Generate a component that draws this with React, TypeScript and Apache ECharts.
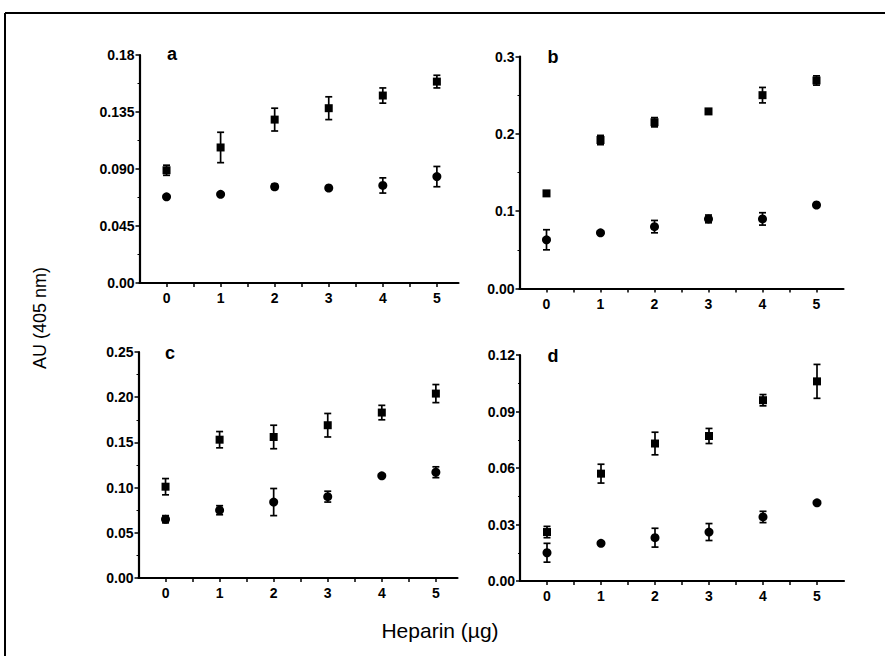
import React, { useEffect, useRef } from "react";
import * as echarts from "echarts";

const xs = [0, 1, 2, 3, 4, 5];
const xTickLabels = ["0", "1", "2", "3", "4", "5"];

const aSquare = [0.089, 0.107, 0.129, 0.138, 0.148, 0.159];
const aSquareErr = [0.004, 0.012, 0.009, 0.009, 0.006, 0.005];
const aCircle = [0.068, 0.07, 0.076, 0.075, 0.077, 0.084];
const aCircleErr = [0, 0, 0.002, 0, 0.006, 0.008];

const bSquare = [0.123, 0.192, 0.215, 0.229, 0.25, 0.269];
const bSquareErr = [0, 0.006, 0.006, 0, 0.01, 0.006];
const bCircle = [0.063, 0.072, 0.08, 0.09, 0.09, 0.108];
const bCircleErr = [0.013, 0, 0.008, 0.005, 0.008, 0];

const cSquare = [0.101, 0.153, 0.156, 0.169, 0.183, 0.204];
const cSquareErr = [0.009, 0.009, 0.013, 0.013, 0.008, 0.01];
const cCircle = [0.065, 0.075, 0.084, 0.09, 0.113, 0.117];
const cCircleErr = [0.004, 0.005, 0.015, 0.006, 0, 0.006];

const dSquare = [0.026, 0.057, 0.073, 0.077, 0.096, 0.106];
const dSquareErr = [0.003, 0.005, 0.006, 0.004, 0.003, 0.009];
const dCircle = [0.015, 0.02, 0.023, 0.026, 0.034, 0.0415];
const dCircleErr = [0.005, 0, 0.005, 0.0045, 0.003, 0];

const aYLabels = ["0.00", "0.045", "0.090", "0.135", "0.18"];
const bYLabels = ["0.00", "0.1", "0.2", "0.3"];
const cYLabels = ["0.00", "0.05", "0.10", "0.15", "0.20", "0.25"];
const dYLabels = ["0.00", "0.03", "0.06", "0.09", "0.12"];

const panelLetters = ["a", "b", "c", "d"];
const xTitle = "Heparin (µg)";
const yTitle = "AU (405 nm)";

const FONT = "'Liberation Sans', Arial, Helvetica, sans-serif";

type Panel = {
  sq: number[];
  sqErr: number[];
  ci: number[];
  ciErr: number[];
  yMax: number;
  yInterval: number;
  yLabels: string[];
  grid: { left: number; top: number; width: number; height: number };
  xMax: number;
};

const panels: Panel[] = [
  { sq: aSquare, sqErr: aSquareErr, ci: aCircle, ciErr: aCircleErr, yMax: 0.18, yInterval: 0.045, yLabels: aYLabels, grid: { left: 139.5, top: 55, width: 319, height: 228 }, xMax: 5.4 },
  { sq: bSquare, sqErr: bSquareErr, ci: bCircle, ciErr: bCircleErr, yMax: 0.3, yInterval: 0.1, yLabels: bYLabels, grid: { left: 519.5, top: 56.5, width: 324, height: 232 }, xMax: 5.5 },
  { sq: cSquare, sqErr: cSquareErr, ci: cCircle, ciErr: cCircleErr, yMax: 0.25, yInterval: 0.05, yLabels: cYLabels, grid: { left: 138.5, top: 352, width: 319, height: 226 }, xMax: 5.4 },
  { sq: dSquare, sqErr: dSquareErr, ci: dCircle, ciErr: dCircleErr, yMax: 0.12, yInterval: 0.03, yLabels: dYLabels, grid: { left: 520, top: 355, width: 324, height: 226 }, xMax: 5.5 },
];

const letterPos = [
  [172, 54],
  [553, 57],
  [170, 353],
  [553, 356],
];

function errorBarSeries(vals: number[], errs: number[], idx: number) {
  const data: number[][] = [];
  xs.forEach((x, i) => {
    if (errs[i] > 0) data.push([x, vals[i] - errs[i], vals[i] + errs[i]]);
  });
  return {
    type: "custom",
    xAxisIndex: idx,
    yAxisIndex: idx,
    data,
    encode: { x: 0, y: [1, 2] },
    z: 3,
    renderItem: (params: any, api: any) => {
      const x = api.value(0);
      const lo = api.coord([x, api.value(1)]);
      const hi = api.coord([x, api.value(2)]);
      const w = 3.5;
      const style = { stroke: "#000", lineWidth: 1.7 };
      return {
        type: "group",
        children: [
          { type: "line", shape: { x1: lo[0], y1: lo[1], x2: hi[0], y2: hi[1] }, style },
          { type: "line", shape: { x1: lo[0] - w, y1: lo[1], x2: lo[0] + w, y2: lo[1] }, style },
          { type: "line", shape: { x1: hi[0] - w, y1: hi[1], x2: hi[0] + w, y2: hi[1] }, style },
        ],
      };
    },
  };
}

export default function App() {
  const ref = useRef<HTMLDivElement>(null);
  useEffect(() => {
    document.body.style.margin = "0";
    const chart = echarts.init(ref.current!, null, { renderer: "svg" });
    const grids = panels.map((p) => ({ ...p.grid }));
    const xAxes = panels.map((p, i) => ({
      type: "value",
      gridIndex: i,
      min: -0.5,
      max: p.xMax,
      axisLine: { show: true, onZero: false, lineStyle: { color: "#000", width: 2.2 } },
      axisTick: {
        show: true,
        length: 4,
        customValues: [0, 0.5, 1, 1.5, 2, 2.5, 3, 3.5, 4, 4.5, 5],
        lineStyle: { color: "#000", width: 1.5 },
      },
      axisLabel: {
        show: true,
        customValues: xs,
        formatter: (v: number) => xTickLabels[Math.round(v)] ?? "",
        color: "#000",
        fontFamily: FONT,
        fontSize: 14,
        fontWeight: "bold",
        margin: 8,
      },
      splitLine: { show: false },
    }));
    const yAxes = panels.map((p, i) => ({
      type: "value",
      gridIndex: i,
      min: 0,
      max: p.yMax,
      interval: p.yInterval,
      axisLine: { show: true, onZero: false, lineStyle: { color: "#000", width: 2.2 } },
      axisTick: { show: true, length: 4, lineStyle: { color: "#000", width: 1.5 } },
      minorTick: { show: true, splitNumber: 2, length: 2, lineStyle: { color: "#000", width: 1 } },
      axisLabel: {
        show: true,
        formatter: (v: number) => p.yLabels[Math.round(v / p.yInterval)] ?? "",
        color: "#000",
        fontFamily: FONT,
        fontSize: 14,
        fontWeight: "bold",
        margin: 5,
      },
      splitLine: { show: false },
    }));
    const series: any[] = [];
    panels.forEach((p, i) => {
      series.push(errorBarSeries(p.sq, p.sqErr, i));
      series.push(errorBarSeries(p.ci, p.ciErr, i));
      series.push({
        type: "scatter",
        xAxisIndex: i,
        yAxisIndex: i,
        symbol: "rect",
        symbolSize: 8,
        itemStyle: { color: "#000", opacity: 1 },
        data: xs.map((x, j) => [x, p.sq[j]]),
        z: 4,
      });
      series.push({
        type: "scatter",
        xAxisIndex: i,
        yAxisIndex: i,
        symbol: "circle",
        symbolSize: 9,
        itemStyle: { color: "#000", opacity: 1 },
        data: xs.map((x, j) => [x, p.ci[j]]),
        z: 4,
      });
    });
    const graphic: any[] = [
      { type: "line", shape: { x1: 5, y1: 13, x2: 885, y2: 13 }, style: { stroke: "#000", lineWidth: 2 } },
      { type: "line", shape: { x1: 5, y1: 13, x2: 5, y2: 656 }, style: { stroke: "#000", lineWidth: 2 } },
      {
        type: "text",
        x: 40,
        y: 318,
        rotation: Math.PI / 2,
        style: { text: yTitle, fontFamily: FONT, fontSize: 18, fill: "#000", align: "center", verticalAlign: "middle" },
      },
      {
        type: "text",
        x: 440,
        y: 630,
        style: { text: xTitle, fontFamily: FONT, fontSize: 21, fill: "#000", align: "center", verticalAlign: "middle" },
      },
    ];
    panelLetters.forEach((t, i) => {
      graphic.push({
        type: "text",
        x: letterPos[i][0],
        y: letterPos[i][1],
        style: { text: t, fontFamily: FONT, fontSize: 18, fontWeight: "bold", fill: "#000", align: "center", verticalAlign: "middle" },
      });
    });
    chart.setOption({
      animation: false,
      backgroundColor: "#fff",
      grid: grids,
      xAxis: xAxes,
      yAxis: yAxes,
      series,
      graphic,
    });
    return () => chart.dispose();
  }, []);
  return <div ref={ref} style={{ width: 885, height: 656 }} />;
}
